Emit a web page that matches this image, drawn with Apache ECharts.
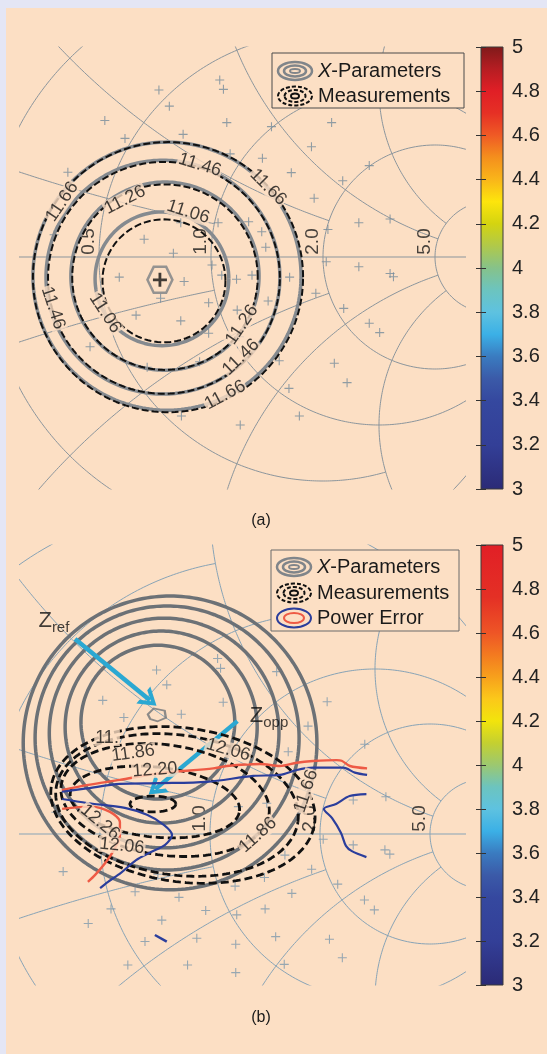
<!DOCTYPE html>
<html><head><meta charset="utf-8">
<script src="https://cdn.jsdelivr.net/npm/echarts@6/dist/echarts.min.js"></script>
<style>html,body{margin:0;padding:0;background:#e4e6f5;}#c{position:absolute;left:0;top:0;width:547px;height:1054px;}</style>
</head><body><div id="c"></div><script>
// ---------------- data (reflection-coefficient plane, Γ units) ----------------
const smithVals = [0.2, 0.5, 1, 2, 5];      // resistance / reactance grid values
const smithEnds = [1, 2, 5, 5, 30];         // where each grid curve stops
const smithLabelR_A = [0.5, 1, 2, 5];
const smithLabelR_B = [1, 2, 5];
const colorTicks = [3, 3.2, 3.4, 3.6, 3.8, 4, 4.2, 4.4, 4.6, 4.8, 5];

// measured load points (panel a)
const markersA = [[0.026,0.527],[0.037,0.499],[-0.155,0.497],[-0.124,0.449],[-0.316,0.406],[0.047,0.400],[0.180,0.388],[0.359,0.400],[-0.256,0.353],[-0.083,0.365],[0.299,0.328],[0.153,0.294],[0.057,0.307],[0.471,0.272],[0.239,0.251],[0.392,0.227],[-0.426,0.252],[0.307,0.175],[0.533,0.113],[0.440,0.102],[0.348,0.082],[0.021,0.102],[0.112,0.105],[-0.090,0.102],[-0.199,0.053],[0.151,0.075],[0.163,0.029],[-0.112,0.011],[0.003,-0.024],[0.343,-0.014],[0.440,-0.029],[0.533,-0.049],[0.543,-0.059],[-0.273,-0.060],[-0.080,-0.073],[0.032,-0.054],[0.076,-0.066],[0.122,-0.054],[0.234,-0.060],[0.312,-0.108],[-0.150,-0.123],[-0.007,-0.136],[0.170,-0.131],[0.078,-0.158],[0.395,-0.153],[-0.223,-0.173],[-0.090,-0.190],[0.471,-0.197],[0.502,-0.225],[-0.007,-0.227],[0.083,-0.237],[0.203,-0.309],[0.367,-0.316],[0.405,-0.374],[-0.190,-0.328],[-0.034,-0.312],[0.232,-0.391],[-0.088,-0.473],[0.263,-0.473],[0.087,-0.500],[-0.360,-0.267],[-0.467,0.066]];
// measured load points (panel b)
const markersB = [[0.023,0.532],[0.032,0.502],[-0.162,0.497],[-0.131,0.452],[0.202,0.492],[-0.325,0.405],[0.040,0.399],[0.355,0.401],[-0.261,0.353],[-0.087,0.363],[0.297,0.327],[0.469,0.272],[0.237,0.249],[-0.467,0.066],[0.533,0.113],[0.434,0.103],[0.086,0.083],[0.172,0.093],[0.343,-0.016],[-0.445,-0.114],[-0.227,-0.175],[-0.094,-0.192],[-0.300,-0.227],[-0.369,-0.271],[-0.146,-0.261],[-0.013,-0.232],[0.081,-0.245],[0.167,-0.227],[0.248,-0.180],[0.165,-0.132],[0.076,-0.158],[0.308,-0.107],[0.227,-0.064],[0.387,-0.152],[0.468,-0.200],[0.498,-0.230],[0.530,-0.048],[0.545,-0.061],[0.434,-0.033],[0.199,-0.311],[-0.040,-0.316],[-0.197,-0.326],[0.078,-0.334],[0.362,-0.319],[0.401,-0.375],[-0.249,-0.397],[-0.068,-0.397],[0.225,-0.395],[0.078,-0.420],[-0.158,-0.122]];

// panel a contours (level, centre, radius)
const levelsA = [11.06, 11.26, 11.46, 11.66];
const xpCxA = [-0.146, -0.137, -0.143, -0.131];
const xpCyA = [-0.065, -0.057, -0.060, -0.057];
const xpRA  = [0.199, 0.280, 0.348, 0.399];
const msCxA = [-0.140, -0.137, -0.140, -0.128];
const msCyA = [-0.071, -0.060, -0.062, -0.060];
const msRA  = [0.183, 0.276, 0.345, 0.402];
const labelTextA = ['11.46','11.66','11.66','11.26','11.06','11.06','11.46','11.26','11.46','11.66'];
const labelXA = [-0.033, 0.170, -0.443, -0.256, -0.068, -0.315, -0.470, 0.092, 0.089, 0.042];
const labelYA = [0.274, 0.208, 0.164, 0.170, 0.134, -0.167, -0.152, -0.202, -0.298, -0.411];
const optimumA = [-0.152, -0.068];

// panel b contours
const xpCxB = [-0.158, -0.148, -0.139, -0.130, -0.121];
const xpCyB = [0.339, 0.324, 0.306, 0.291, 0.276];
const xpRB  = [0.233, 0.291, 0.348, 0.400, 0.445];
const msLevelsB = [12.26, 12.20, 12.06, 11.86, 11.66];
const msCxB = [-0.173, -0.167, -0.136, -0.100, -0.082];
const msCyB = [0.091, 0.097, 0.103, 0.088, 0.088];
const msRxB = [0.070, 0.258, 0.318, 0.370, 0.403];
const msRyB = [0.024, 0.106, 0.167, 0.212, 0.233];
const msTiltB = [0, -6, -8, -8, -8];
const labelTextB = ['11.','11.86','12.20','12.06','12.26','12.06','11.86','11.66'];
const labelXB = [-0.312, -0.233, -0.167, 0.055, -0.333, -0.267, 0.145, 0.291];
const labelYB = [0.291, 0.245, 0.194, 0.255, 0.036, -0.036, -0.003, 0.130];
const zrefB = [-0.161, 0.361];
const zrefArrow = [[-0.409, 0.591], [-0.182, 0.405]];
const zoppArrow = [[0.083, 0.342], [-0.166, 0.136]];
const zrefText = [-0.473, 0.645];
const zoppText = [0.179, 0.358];

// power error contour lines (panel b)
const redUpperB = [[-0.449,0.133],[-0.374,0.148],[-0.273,0.164],[-0.152,0.184],[0.010,0.199],[0.051,0.206],[0.152,0.212],[0.212,0.206],[0.263,0.216],[0.312,0.221],[0.384,0.224],[0.399,0.222],[0.424,0.206],[0.476,0.199]];
const blueUpperB = [[-0.449,0.128],[-0.374,0.138],[-0.273,0.152],[-0.152,0.154],[-0.010,0.158],[0.131,0.176],[0.212,0.179],[0.263,0.194],[0.313,0.201],[0.404,0.201],[0.439,0.186],[0.476,0.179]];
const redLowerB = [[-0.448,0.076],[-0.364,0.083],[-0.303,0.067],[-0.273,0.036],[-0.273,-0.006],[-0.291,-0.048],[-0.315,-0.085],[-0.348,-0.124],[-0.370,-0.145]];
const blueLowerB = [[-0.448,0.106],[-0.373,0.094],[-0.258,0.079],[-0.191,0.058],[-0.139,0.027],[-0.115,-0.003],[-0.136,-0.033],[-0.182,-0.056],[-0.224,-0.079],[-0.270,-0.118],[-0.309,-0.145],[-0.333,-0.164]];
const blueRightB = [[0.474,0.121],[0.423,0.115],[0.382,0.091],[0.345,0.076],[0.370,0.048],[0.397,0.003],[0.412,-0.036],[0.430,-0.052],[0.474,-0.070]];
const blueBitB = [[-0.167,-0.306],[-0.131,-0.326]];

// ---------------- layout & style ----------------
const FONT = 'Liberation Sans, Arial, sans-serif';
const BEIGE = '#fcdfc4';
const PA = {left:20, top:47, width:445, height:442, cx:211, cy:257, s:336};
const PB = {left:20, top:545, width:445, height:440, cx:210, cy:834, s:330};
const labelRotA = [-17, -45, 56, 27, -18, -57, -72, 56, 44, 28];
const labelRotB = [0, 8, 4, -16, -40, -6, 42, 72];
const jetA = [[0,'#2b2a76'],[0.1,'#333f97'],[0.2,'#35489f'],[0.25,'#3b5aa8'],[0.3,'#3a7bc0'],[0.35,'#3bb0e6'],[0.4,'#5ec2e0'],[0.45,'#6cc4bf'],[0.5,'#86c28a'],[0.55,'#b0c94a'],[0.6,'#d4d410'],[0.65,'#fde50c'],[0.7,'#f9b51a'],[0.75,'#f48f1d'],[0.8,'#ef5a25'],[0.85,'#e63025'],[0.9,'#e01f26'],[0.95,'#b51d22'],[1,'#7f1a1a']];
const jetB = [[0,'#2b2a76'],[0.1,'#333f97'],[0.2,'#35489f'],[0.25,'#3b5aa8'],[0.3,'#3a7bc0'],[0.35,'#3bb0e6'],[0.4,'#5ec2e0'],[0.45,'#6cc4bf'],[0.5,'#9cc870'],[0.55,'#c4d030'],[0.6,'#f2e40c'],[0.65,'#fbc81a'],[0.7,'#f7a01c'],[0.75,'#f37a20'],[0.8,'#ee5526'],[0.88,'#e43025'],[1,'#e11f26']];
const PLUS = 'path://M4.4,0H5.6V4.4H10V5.6H5.6V10H4.4V5.6H0V4.4H4.4Z';
const PLUS_BOLD = 'path://M4,0H6V4H10V6H6V10H4V6H0V4H4Z';
const HEX = 'path://M3,0H9L12,5.5L9,11H3L0,5.5Z';
const BLOB = 'path://M0,5L5,0L14,2L15,8L8,11L2,9Z';
const CHEV = 'path://M0,10L5,0L10,10L7.8,10L5,4.2L2.2,10Z';

function ranges(P){return {xmin:(P.left-P.cx)/P.s, xmax:(P.left+P.width-P.cx)/P.s, ymax:(P.cy-P.top)/P.s, ymin:(P.cy-P.top-P.height)/P.s};}
const RA = ranges(PA), RB = ranges(PB);

const series = [];
function lineS(gi, data, color, width, dash, z, smooth){
  return {type:'line', xAxisIndex:gi, yAxisIndex:gi, data:data, showSymbol:false, symbol:'none', smooth:smooth||false,
    silent:true, animation:false, clip:true, z:z||2, emphasis:{disabled:true}, lineStyle:{color:color, width:width, type:dash||'solid', cap:'butt'}};
}
function circlePts(cx, cy, rx, ry, tilt){
  const t = (tilt||0)*Math.PI/180, pts=[];
  for(let k=0;k<=240;k++){const a=k/240*2*Math.PI; const x=rx*Math.cos(a), y=ry*Math.sin(a);
    pts.push([cx + x*Math.cos(t) - y*Math.sin(t), cy + x*Math.sin(t) + y*Math.cos(t)]);}
  return pts;
}
function zToG(r, x){ const d=(r+1)*(r+1)+x*x; return [(r*r-1+x*x)/d, 2*x/d]; }
function smithGrid(gi, color){
  series.push(lineS(gi, circlePts(0,0,1,1), color, 1, 'solid', 1));
  series.push(lineS(gi, [[-1,0],[1,0]], color, 1, 'solid', 1));
  const N = 500;
  smithVals.forEach((v,i)=>{
    const a = Math.atan(smithEnds[i]);
    const rc=[]; for(let k=0;k<=N;k++){ rc.push(zToG(v, Math.tan(-a + 2*a*k/N))); }
    series.push(lineS(gi, rc, color, 1, 'solid', 1));
    [1,-1].forEach(sg=>{ const xc=[]; for(let k=0;k<=N;k++){ xc.push(zToG(Math.tan(a*k/N), sg*v)); }
      series.push(lineS(gi, xc, color, 1, 'solid', 1)); });
  });
}
function smithLabels(gi, rs){
  series.push({type:'scatter', xAxisIndex:gi, yAxisIndex:gi, silent:true, animation:false, z:3, symbolSize:1,
    itemStyle:{color:'transparent'},
    data: rs.map(r=>({value:[(r-1)/(r+1),0], name:r.toFixed(1)})),
    label:{show:true, formatter:'{b}', position:[-10,-15], align:'center', verticalAlign:'middle', rotate:90,
      fontFamily:FONT, fontSize:19, color:'#1a1a1a'}});
}
function markers(gi, data, color){
  series.push({type:'scatter', xAxisIndex:gi, yAxisIndex:gi, data:data, symbol:PLUS, symbolSize:9, silent:true, animation:false, z:2,
    itemStyle:{color:color}});
}
function contourLabels(gi, txt, xs, ys, rot){
  series.push({type:'scatter', xAxisIndex:gi, yAxisIndex:gi, silent:true, animation:false, z:9, symbolSize:1,
    itemStyle:{color:'transparent'},
    data: txt.map((t,i)=>({value:[xs[i],ys[i]], name:t, label:{rotate:rot[i]}})),
    label:{show:true, formatter:'{b}', position:'inside', align:'center', verticalAlign:'middle',
      fontFamily:FONT, fontSize:18, color:'#111', backgroundColor:BEIGE, padding:[-1,1]}});
}

// ---- panel a ----
smithGrid(0, '#8b959c');
smithLabels(0, smithLabelR_A);
markers(0, markersA, '#748b9b');
levelsA.forEach((lv,i)=>{ series.push(lineS(0, circlePts(xpCxA[i], xpCyA[i], xpRA[i], xpRA[i]), '#858a8f', 3.5, 'solid', 4)); });
levelsA.forEach((lv,i)=>{ series.push(lineS(0, circlePts(msCxA[i], msCyA[i], msRA[i], msRA[i]), '#111', 2, [7,3], 5)); });
contourLabels(0, labelTextA, labelXA, labelYA, labelRotA);
series.push({type:'scatter', xAxisIndex:0, yAxisIndex:0, silent:true, animation:false, z:6, data:[optimumA], symbol:HEX, symbolSize:[25,26],
  itemStyle:{color:'transparent', borderColor:'#7b8085', borderWidth:2.5}});
series.push({type:'scatter', xAxisIndex:0, yAxisIndex:0, silent:true, animation:false, z:7, data:[optimumA], symbol:PLUS_BOLD, symbolSize:14,
  itemStyle:{color:'#111'}});

// ---- panel b ----
smithGrid(1, '#87a3b6');
smithLabels(1, smithLabelR_B);
markers(1, markersB, '#7d98ad');
xpRB.forEach((r,i)=>{ series.push(lineS(1, circlePts(xpCxB[i], xpCyB[i], r, r), '#6c7176', 3.5, 'solid', 4)); });
msLevelsB.forEach((lv,i)=>{ series.push(lineS(1, circlePts(msCxB[i], msCyB[i], msRxB[i], msRyB[i], msTiltB[i]), '#111', 2.8, [8,4], 5)); });
series.push(lineS(1, redUpperB, '#ee5a45', 2.4, 'solid', 7, 0.3));
series.push(lineS(1, blueUpperB, '#2b3e9c', 2.2, 'solid', 7, 0.3));
series.push(lineS(1, redLowerB, '#ee5a45', 2.4, 'solid', 7, 0.3));
series.push(lineS(1, blueLowerB, '#2b3e9c', 2.2, 'solid', 7, 0.3));
series.push(lineS(1, blueRightB, '#2b3e9c', 2.2, 'solid', 7, 0.3));
series.push(lineS(1, blueBitB, '#2b3e9c', 2.5, 'solid', 7));
contourLabels(1, labelTextB, labelXB, labelYB, labelRotB);
series.push({type:'scatter', xAxisIndex:1, yAxisIndex:1, silent:true, animation:false, z:6, data:[zrefB], symbol:BLOB, symbolSize:[18,13],
  itemStyle:{color:'transparent', borderColor:'#6f7479', borderWidth:2}});
series.push({type:'line', xAxisIndex:1, yAxisIndex:1, data:[[-9,-9]], silent:true, animation:false, z:10, symbol:'none', lineStyle:{opacity:0},
  markLine:{silent:true, animation:false, symbol:['none', CHEV], symbolSize:[22,17], label:{show:false}, emphasis:{disabled:true},
    lineStyle:{color:'#2ba8d2', width:4.5, type:'solid'},
    data:[[{coord:zrefArrow[0]},{coord:zrefArrow[1]}],[{coord:zoppArrow[0]},{coord:zoppArrow[1]}]]}});
series.push({type:'scatter', xAxisIndex:1, yAxisIndex:1, silent:true, animation:false, z:11, symbolSize:1, itemStyle:{color:'transparent'},
  data:[{value:zrefText, name:'ref'},{value:zoppText, name:'opp'}],
  label:{show:true, position:'inside', formatter:p=>'{z|Z}{s|'+p.name+'}',
    rich:{z:{fontFamily:FONT, fontSize:22, color:'#111'}, s:{fontFamily:FONT, fontSize:15, color:'#111', padding:[13,0,0,0]}}}});

// ---- colour bars ----
function colorbar(gi, stops){
  series.push({type:'custom', xAxisIndex:gi, yAxisIndex:gi*2-2, silent:true, animation:false, z:1,
    data:[[0, colorTicks[0], 1, colorTicks[colorTicks.length-1]]],
    renderItem:function(params, api){
      const p0 = api.coord([api.value(0), api.value(3)]), p1 = api.coord([api.value(2), api.value(1)]);
      return {type:'rect', shape:{x:p0[0], y:p0[1], width:p1[0]-p0[0], height:p1[1]-p0[1]},
        style:{fill:new echarts.graphic.LinearGradient(0,1,0,0, stops.map(s=>({offset:s[0], color:s[1]}))), stroke:'#3a3a3a', lineWidth:1}};
    }});
}
colorbar(2, jetA);
colorbar(3, jetB);

const hid = {show:false};
function plotAxis(R, gi, dim){ return {type:'value', gridIndex:gi, min: dim==='x'?R.xmin:R.ymin, max: dim==='x'?R.xmax:R.ymax, show:false, scale:true, splitLine:hid}; }
function cbY(gi, pos, labels){
  return {type:'value', gridIndex:gi, min:colorTicks[0], max:colorTicks[colorTicks.length-1], interval:0.2, position:pos, z:5,
    axisLine:hid, splitLine:hid, axisTick:{show:true, inside:true, length:5, lineStyle:{color:'#333', width:1}},
    axisLabel:{show:labels, fontFamily:FONT, fontSize:20, color:'#222', margin:9, formatter:v=>String(+v.toFixed(1))}};
}

function legendItems(x0, ys, withPower){
  const g = [];
  const gray = '#80858a';
  g.push({type:'ellipse', z:101, silent:true, shape:{cx:x0, cy:ys[0], rx:17, ry:9}, style:{fill:'none', stroke:gray, lineWidth:2.5}});
  g.push({type:'ellipse', z:101, silent:true, shape:{cx:x0, cy:ys[0], rx:11, ry:5.5}, style:{fill:'none', stroke:gray, lineWidth:2.5}});
  g.push({type:'ellipse', z:101, silent:true, shape:{cx:x0, cy:ys[0], rx:5, ry:2}, style:{fill:'none', stroke:gray, lineWidth:2}});
  g.push({type:'ellipse', z:101, silent:true, shape:{cx:x0, cy:ys[1], rx:17, ry:9.5}, style:{fill:'none', stroke:'#111', lineWidth:2, lineDash:[4,2]}});
  g.push({type:'ellipse', z:101, silent:true, shape:{cx:x0, cy:ys[1], rx:10.5, ry:6}, style:{fill:'none', stroke:'#111', lineWidth:2, lineDash:[4,2]}});
  g.push({type:'ellipse', z:101, silent:true, shape:{cx:x0, cy:ys[1], rx:4, ry:2.5}, style:{fill:'none', stroke:'#111', lineWidth:2}});
  const tx = x0 + 23;
  g.push({type:'text', z:101, silent:true, x:tx, y:ys[0], style:{text:'{i|X}-Parameters', fontFamily:FONT, fontSize:20, fill:'#1a1a1a', verticalAlign:'middle',
      rich:{i:{fontStyle:'italic', fontFamily:FONT, fontSize:20, fill:'#1a1a1a'}}}});
  g.push({type:'text', z:101, silent:true, x:tx, y:ys[1], style:{text:'Measurements', fontFamily:FONT, fontSize:20, fill:'#1a1a1a', verticalAlign:'middle'}});
  if(withPower){
    g.push({type:'ellipse', z:101, silent:true, shape:{cx:x0, cy:ys[2], rx:17, ry:9.5}, style:{fill:'none', stroke:'#2b3e9c', lineWidth:2}});
    g.push({type:'ellipse', z:101, silent:true, shape:{cx:x0, cy:ys[2], rx:10, ry:5}, style:{fill:'none', stroke:'#ee5a45', lineWidth:2}});
    g.push({type:'text', z:101, silent:true, x:tx, y:ys[2], style:{text:'Power Error', fontFamily:FONT, fontSize:20, fill:'#1a1a1a', verticalAlign:'middle'}});
  }
  return g;
}

const chart = echarts.init(document.getElementById('c'), null, {renderer:'canvas'});
chart.setOption({
  animation:false,
  backgroundColor:'transparent',
  textStyle:{fontFamily:FONT},
  grid:[
    {left:PA.left, top:PA.top, width:PA.width, height:PA.height, outerBoundsMode:'none'},
    {left:PB.left, top:PB.top, width:PB.width, height:PB.height, outerBoundsMode:'none'},
    {left:481, top:PA.top, width:22, height:PA.height, outerBoundsMode:'none'},
    {left:481, top:PB.top, width:22, height:PB.height, outerBoundsMode:'none'}
  ],
  xAxis:[plotAxis(RA,0,'x'), plotAxis(RB,1,'x'),
    {type:'value', gridIndex:2, min:0, max:1, show:false}, {type:'value', gridIndex:3, min:0, max:1, show:false}],
  yAxis:[plotAxis(RA,0,'y'), plotAxis(RB,1,'y'),
    cbY(2,'right',true), cbY(2,'left',false), cbY(3,'right',true), cbY(3,'left',false)],
  series:series,
  graphic:[
    {type:'rect', z:-100, silent:true, shape:{x:6, y:8, width:541, height:1046}, style:{fill:BEIGE}},
    {type:'rect', z:100, silent:true, shape:{x:272, y:53, width:192, height:55}, style:{fill:BEIGE, stroke:'#4a4a4a', lineWidth:1}},
    {type:'rect', z:100, silent:true, shape:{x:271, y:550, width:188, height:81}, style:{fill:BEIGE, stroke:'#6a6a6a', lineWidth:1}}
  ].concat(legendItems(295, [71, 96], false), legendItems(294, [567, 593, 618], true), [
    {type:'text', z:101, silent:true, x:261, y:521, style:{text:'(a)', fontFamily:FONT, fontSize:16, fill:'#1a1a1a', align:'center', verticalAlign:'middle'}},
    {type:'text', z:101, silent:true, x:261, y:1018, style:{text:'(b)', fontFamily:FONT, fontSize:16, fill:'#1a1a1a', align:'center', verticalAlign:'middle'}}
  ])
});
</script></body></html>
